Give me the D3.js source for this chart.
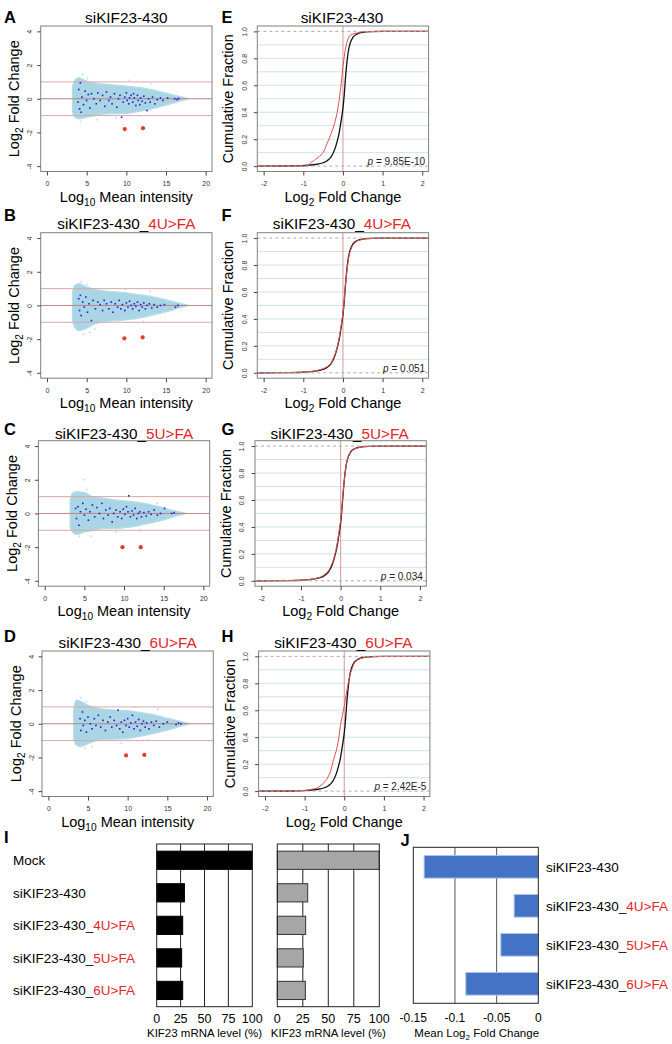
<!DOCTYPE html>
<html>
<head>
<meta charset="utf-8">
<script src="https://cdn.jsdelivr.net/npm/d3@7"></script>
<style>
  body { margin: 0; background: #fff; }
  text { font-family: "Liberation Sans", Arial, sans-serif; }
</style>
</head>
<body>
<svg width="672" height="1044"></svg>
<script>
// ---- data ----
const sampleBase = "siKIF23-430";
const suffixes = ["", "4U>FA", "5U>FA", "6U>FA"];
const maLetters = ["A", "B", "C", "D"];
const cdfLetters = ["E", "F", "G", "H"];
const pValues = ["9.85E-10", "0.051", "0.034", "2.42E-5"];

// light-blue cloud envelope (log10 intensity vs upper / lower log2 FC)
const cloudX = [3.2, 3.5, 4, 5, 6, 7.5, 9, 10, 11, 12.5, 14, 15, 16, 16.5, 17.2, 17.8];
const cloudUpper = [
  [0.7, 1.1, 1.25, 1.05, 0.95, 0.85, 0.8, 0.75, 0.7, 0.6, 0.45, 0.33, 0.22, 0.16, 0.08, 0],
  [0.8, 1.2, 1.3, 1.1, 0.95, 0.85, 0.8, 0.75, 0.68, 0.58, 0.45, 0.33, 0.22, 0.16, 0.08, 0],
  [0.8, 1.2, 1.3, 1.25, 1.0, 0.9, 0.8, 0.75, 0.7, 0.6, 0.45, 0.33, 0.2, 0.15, 0.07, 0],
  [0.9, 1.4, 1.35, 1.1, 0.95, 0.85, 0.8, 0.78, 0.7, 0.6, 0.45, 0.33, 0.22, 0.16, 0.08, 0]
];
const cloudLower = [
  [-0.8, -1.1, -1.2, -1.1, -1.0, -0.9, -0.88, -0.87, -0.8, -0.68, -0.5, -0.38, -0.25, -0.18, -0.09, 0],
  [-0.9, -1.3, -1.5, -1.35, -1.1, -0.95, -0.9, -0.85, -0.8, -0.66, -0.5, -0.38, -0.25, -0.17, -0.09, 0],
  [-0.8, -1.1, -1.25, -1.1, -1.0, -0.9, -0.9, -0.85, -0.8, -0.65, -0.5, -0.38, -0.24, -0.16, -0.08, 0],
  [-0.9, -1.25, -1.35, -1.2, -1.0, -0.92, -0.9, -0.88, -0.8, -0.66, -0.5, -0.38, -0.25, -0.17, -0.09, 0]
];
const cloudOutliers = [
  [[4.5, 1.45], [5.1, 1.2], [10.4, 1.1], [8.7, -1.15], [4.2, -1.35], [6.3, -1.25], [11.6, -1.0], [13.1, 0.9]],
  [[4.3, 1.4], [5.0, 1.25], [4.6, -1.7], [5.4, -1.6], [6.0, -1.4], [9.9, 0.95], [12.2, -0.95], [13.0, 0.85]],
  [[5.0, 2.0], [5.3, 1.4], [4.4, -1.35], [5.8, -1.35], [9.0, -1.1], [10.6, 1.0], [12.0, -0.95], [14.2, 0.6]],
  [[4.1, 1.55], [4.8, 1.3], [4.6, -1.45], [5.5, -1.35], [9.2, -1.15], [10.8, 1.0], [12.5, -0.95], [13.8, 0.85]]
];

// dark blue points (target genes)
const maDark = [
  [[3.9,-0.2],[4.0,0.55],[4.1,-0.6],[4.2,0.95],[4.3,-0.8],[4.4,0.1],[4.6,-0.35],[4.8,0.45],[5.0,-0.1],[5.2,0.25],[5.4,-0.55],[5.6,0.3],[5.9,0.0],[6.2,-0.3],[6.4,0.35],[6.7,-0.1],[7.0,0.2],[7.3,-0.45],[7.5,0.4],[7.8,-0.1],[8.0,0.1],[8.2,-0.3],[8.5,0.3],[8.8,-0.5],[9.0,0.0],[9.2,0.2],[9.4,-1.1],[9.6,-0.2],[9.8,0.1],[10.0,0.35],[10.1,-0.1],[10.3,-0.3],[10.4,0.05],[10.6,0.2],[10.8,-0.2],[10.9,0.3],[11.0,0.05],[11.2,-0.4],[11.4,0.2],[11.5,-0.1],[11.7,-0.35],[11.8,0.05],[12.0,-0.15],[12.2,0.15],[12.4,-0.25],[12.6,-0.7],[12.8,0.0],[13.0,-0.2],[13.3,0.1],[13.6,-0.3],[13.9,-0.05],[14.3,0.05],[14.6,-0.1],[15.2,0.05],[16.1,0.0],[16.4,-0.05],[16.6,0.02]],
  [[4.0,0.4],[4.1,-0.3],[4.2,0.6],[4.3,-0.6],[4.5,0.2],[4.7,-0.1],[4.9,0.5],[5.1,-0.4],[5.3,0.1],[5.6,-0.9],[5.8,0.3],[6.1,-0.2],[6.4,0.2],[6.7,0.05],[7.0,-0.3],[7.2,0.3],[7.5,0.1],[7.8,-0.2],[8.1,0.2],[8.3,-0.4],[8.6,0.1],[8.9,-0.1],[9.1,0.3],[9.3,-0.2],[9.5,0.05],[9.8,-0.3],[10.0,0.15],[10.2,-0.1],[10.4,0.25],[10.6,0.0],[10.8,-0.2],[11.0,0.1],[11.2,-0.05],[11.4,0.2],[11.6,-0.3],[11.8,0.05],[12.0,-0.1],[12.2,0.15],[12.4,-0.2],[12.6,0.0],[12.9,0.1],[13.2,-0.15],[13.5,0.05],[13.9,-0.1],[14.3,0.0],[14.8,0.05],[16.2,-0.1],[16.5,0.0]],
  [[3.9,0.3],[4.0,-0.3],[4.2,0.4],[4.3,-0.7],[4.5,0.1],[4.8,0.6],[5.0,-0.1],[5.2,0.25],[5.5,-0.4],[5.7,0.1],[6.0,0.5],[6.3,-0.2],[6.6,0.35],[6.9,0.0],[7.2,0.6],[7.4,-0.3],[7.7,0.2],[8.0,-0.1],[8.2,0.3],[8.5,-0.5],[8.7,0.0],[9.0,0.2],[9.2,-0.2],[9.5,0.1],[9.7,-0.3],[9.9,0.25],[10.1,-0.05],[10.3,0.4],[10.5,0.1],[10.6,1.05],[10.8,-0.2],[11.0,0.15],[11.2,-0.1],[11.4,0.3],[11.6,-0.3],[11.8,0.0],[12.0,0.1],[12.2,-0.2],[12.5,0.05],[12.8,-0.15],[13.1,0.1],[13.4,-0.05],[13.8,0.2],[14.2,-0.1],[14.6,0.0],[15.1,0.3],[16.0,0.0],[16.3,0.05]],
  [[4.0,0.3],[4.1,-0.4],[4.3,0.7],[4.4,-0.1],[4.6,0.2],[4.8,-0.5],[5.0,0.4],[5.3,0.0],[5.5,-0.3],[5.8,0.3],[6.0,-0.1],[6.3,0.5],[6.6,-0.2],[6.9,0.2],[7.2,-0.4],[7.5,0.1],[7.8,0.4],[8.0,-0.2],[8.3,0.2],[8.6,-0.1],[8.8,0.8],[9.0,-0.3],[9.2,0.1],[9.4,-0.5],[9.6,0.2],[9.8,-0.1],[10.0,0.3],[10.2,-0.2],[10.4,0.05],[10.6,0.5],[10.8,-0.3],[11.0,0.1],[11.2,-0.15],[11.4,0.25],[11.6,-0.4],[11.8,0.0],[12.0,0.15],[12.2,-0.2],[12.4,0.05],[12.7,-0.3],[13.0,0.1],[13.3,-0.1],[13.6,0.15],[14.0,-0.2],[14.5,0.0],[15.0,0.1],[16.1,-0.05],[16.4,0.05],[16.7,0.0]]
];
// the two red dots (siRNA itself)
const maRed = [
  [[9.8, -1.8], [12.1, -1.75]],
  [[9.75, -1.95], [12.05, -1.9]],
  [[9.8, -2.0], [12.1, -2.0]],
  [[9.8, -1.88], [12.1, -1.85]]
];

// cumulative curves: all genes (black) and targets (red)
const cdfAllX = [-2.16, -1.3, -1.0, -0.7, -0.5, -0.4, -0.3, -0.2, -0.15, -0.1, -0.05, 0, 0.03, 0.06, 0.1, 0.14, 0.18, 0.25, 0.35, 0.5, 0.7, 1.0, 2.16];
const cdfAllY = [0, 0.001, 0.004, 0.012, 0.025, 0.04, 0.068, 0.13, 0.18, 0.24, 0.33, 0.43, 0.52, 0.64, 0.77, 0.86, 0.91, 0.955, 0.98, 0.993, 0.998, 1, 1];
const cdfRedX = [
  [-2.16, -0.9, -0.85, -0.8, -0.75, -0.7, -0.6, -0.5, -0.45, -0.4, -0.35, -0.3, -0.25, -0.2, -0.15, -0.1, -0.06, -0.03, 0, 0.05, 0.1, 0.15, 0.2, 0.3, 0.5, 0.8, 2.16],
  [-2.16, -1.0, -0.7, -0.5, -0.4, -0.3, -0.2, -0.15, -0.1, -0.05, 0, 0.03, 0.06, 0.1, 0.14, 0.18, 0.25, 0.35, 0.5, 0.8, 2.16],
  [-2.16, -1.0, -0.7, -0.5, -0.4, -0.3, -0.2, -0.15, -0.1, -0.05, 0, 0.03, 0.06, 0.1, 0.14, 0.18, 0.25, 0.35, 0.5, 0.8, 2.16],
  [-2.16, -1.0, -0.7, -0.55, -0.44, -0.35, -0.27, -0.2, -0.15, -0.1, -0.05, 0, 0.05, 0.1, 0.15, 0.2, 0.25, 0.35, 0.5, 0.8, 2.16]
];
const cdfRedY = [
  [0, 0, 0.01, 0.03, 0.035, 0.05, 0.07, 0.1, 0.13, 0.17, 0.2, 0.24, 0.28, 0.33, 0.39, 0.48, 0.57, 0.65, 0.74, 0.85, 0.92, 0.96, 0.975, 0.985, 0.997, 1, 1],
  [0, 0.004, 0.013, 0.03, 0.045, 0.07, 0.135, 0.185, 0.25, 0.34, 0.44, 0.53, 0.64, 0.76, 0.85, 0.9, 0.95, 0.978, 0.992, 0.999, 1],
  [0, 0.003, 0.012, 0.028, 0.048, 0.075, 0.14, 0.19, 0.255, 0.345, 0.45, 0.54, 0.65, 0.77, 0.86, 0.91, 0.955, 0.98, 0.993, 0.999, 1],
  [0, 0.004, 0.02, 0.05, 0.087, 0.14, 0.235, 0.3, 0.37, 0.48, 0.56, 0.63, 0.72, 0.8, 0.87, 0.91, 0.95, 0.978, 0.992, 0.999, 1]
];

// panel I / J
const barCats = ["Mock", "siKIF23-430", "siKIF23-430_4U>FA", "siKIF23-430_5U>FA", "siKIF23-430_6U>FA"];
const mrnaLevel1 = [100, 29, 27.2, 26.1, 27.2];
const mrnaLevel2 = [100, 29.8, 27.8, 25.5, 27.5];
const mrnaTicks = [0, 25, 50, 75, 100];
const jCats = barCats.slice(1);
const meanLfc = [-0.137, -0.029, -0.045, -0.087];
const jTicks = [-0.15, -0.1, -0.05, 0];

// ---- layout ----
const RED = "#e3262a";
const rowTop = [26, 232.7, 440.7, 651];
const rowShift = [0, 0, -2.3, 1.3];
const titleY = [23.3, 228.8, 439, 647.5];
const letterY = [23.3, 220.7, 435, 641.7];
const PW = 171.3, PH = 145.5;
const plain = d => String(d);   // hyphen minus like R, not U+2212

const svg = d3.select("svg");

function redSuffix(sel, name) {
  const i = name.indexOf("_");
  if (i < 0) { sel.append("tspan").text(name); return; }
  sel.append("tspan").text(name.slice(0, i + 1));
  sel.append("tspan").attr("fill", RED).text(name.slice(i + 1));
}

// "Log" + subscript + rest
function subLabel(sel, sub, rest) {
  sel.append("tspan").text("Log");
  sel.append("tspan").attr("dy", 4).attr("font-size", "70%").text(sub);
  sel.append("tspan").attr("dy", -4).text(rest);
}

function letter(x, y, t) {
  svg.append("text").attr("x", x).attr("y", y)
    .attr("font-size", 16.5).attr("font-weight", "bold").text(t);
}

function styleAxis(g) {
  g.select(".domain").remove();
  g.selectAll("line").attr("stroke", "#444");
  g.selectAll("text").attr("fill", "#333").attr("font-size", 7);
}

function drawMA(i) {
  const L = 40.7 + rowShift[i], T = rowTop[i];
  const x = d3.scaleLinear().domain([-0.8, 20.8]).range([L, L + PW]);
  const y = d3.scaleLinear().domain([-4.32, 4.32]).range([T + PH, T]);
  const g = svg.append("g");

  const env = cloudX.map((v, k) => [v, cloudUpper[i][k], cloudLower[i][k]]);
  g.append("path").datum(env)
    .attr("d", d3.area().x(d => x(d[0])).y0(d => y(d[2])).y1(d => y(d[1])).curve(d3.curveMonotoneX))
    .attr("fill", "#a9d5e5").attr("stroke", "#b7dcea").attr("stroke-width", 1.2);

  g.selectAll(".out").data(cloudOutliers[i]).join("rect")
    .attr("x", d => x(d[0]) - 0.7).attr("y", d => y(d[1]) - 0.7)
    .attr("width", 1.4).attr("height", 1.4).attr("fill", "#a9d5e5");

  [1, -1, 0].forEach(v => {
    g.append("line").attr("x1", L).attr("x2", L + PW).attr("y1", y(v)).attr("y2", y(v))
      .attr("stroke", v === 0 ? "#b98585" : "#d8a9a9").attr("stroke-width", 1);
  });

  g.selectAll(".dk").data(maDark[i]).join("rect")
    .attr("x", d => x(d[0]) - 0.8).attr("y", d => y(d[1]) - 0.8)
    .attr("width", 1.6).attr("height", 1.6).attr("fill", "#1f1fd6");

  g.selectAll(".rd").data(maRed[i]).join("circle")
    .attr("cx", d => x(d[0])).attr("cy", d => y(d[1])).attr("r", 2.1).attr("fill", "#e8392b");

  g.append("rect").attr("x", L).attr("y", T).attr("width", PW).attr("height", PH)
    .attr("fill", "none").attr("stroke", "#808080");

  g.append("g").attr("transform", `translate(0,${T + PH})`)
    .call(d3.axisBottom(x).tickValues([0, 5, 10, 15, 20]).tickFormat(plain).tickSize(4).tickPadding(6))
    .call(styleAxis);
  const ya = g.append("g").attr("transform", `translate(${L},0)`)
    .call(d3.axisLeft(y).tickValues([-4, -2, 0, 2, 4]).tickFormat(plain).tickSize(3.5))
    .call(styleAxis);
  ya.selectAll("text").attr("x", null).attr("dy", null).attr("text-anchor", "middle")
    .attr("transform", "translate(-8.4,0) rotate(-90)");

  g.append("text").attr("x", L + PW / 2).attr("y", titleY[i]).attr("text-anchor", "middle")
    .attr("font-size", 15.3).call(s => redSuffix(s, suffixes[i] ? sampleBase + "_" + suffixes[i] : sampleBase));

  g.append("text").attr("text-anchor", "middle").attr("font-size", 14.5)
    .attr("transform", `translate(${L - 21.5},${T + PH / 2}) rotate(-90)`)
    .call(s => subLabel(s, "2", " Fold Change"));
  g.append("text").attr("x", L + PW / 2).attr("y", T + PH + 30).attr("text-anchor", "middle")
    .attr("font-size", 14.5).call(s => subLabel(s, "10", " Mean intensity"));

  letter(4, letterY[i], maLetters[i]);
}

function drawCDF(i) {
  const L = 257.3 + rowShift[i], T = rowTop[i];
  const x = d3.scaleLinear().domain([-2.16, 2.16]).range([L, L + PW]);
  const y = d3.scaleLinear().domain([-0.04, 1.04]).range([T + PH, T]);
  const g = svg.append("g");

  d3.range(1, 10).forEach(k => {
    g.append("line").attr("x1", L).attr("x2", L + PW).attr("y1", y(k / 10)).attr("y2", y(k / 10))
      .attr("stroke", "#cfe3ea").attr("stroke-width", 1);
  });
  g.append("line").attr("x1", x(0)).attr("x2", x(0)).attr("y1", T).attr("y2", T + PH)
    .attr("stroke", "#d39a9a").attr("stroke-width", 1);

  const line = d3.line().x(d => x(d[0])).y(d => y(d[1])).curve(d3.curveMonotoneX);
  g.append("path").datum(cdfAllX.map((v, k) => [v, cdfAllY[k]]))
    .attr("d", line).attr("fill", "none").attr("stroke", "#111").attr("stroke-width", 1.3);
  g.append("path").datum(cdfRedX[i].map((v, k) => [v, cdfRedY[i][k]]))
    .attr("d", d3.line().x(d => x(d[0])).y(d => y(d[1])))
    .attr("fill", "none").attr("stroke", "#e4514f").attr("stroke-width", 1);

  [0, 1].forEach(v => {
    g.append("line").attr("x1", L).attr("x2", L + PW).attr("y1", y(v)).attr("y2", y(v))
      .attr("stroke", "#aaa").attr("stroke-dasharray", "3,3");
  });

  g.append("rect").attr("x", L).attr("y", T).attr("width", PW).attr("height", PH)
    .attr("fill", "none").attr("stroke", "#808080");

  g.append("g").attr("transform", `translate(0,${T + PH})`)
    .call(d3.axisBottom(x).tickValues([-2, -1, 0, 1, 2]).tickFormat(plain).tickSize(4).tickPadding(6))
    .call(styleAxis);
  const ya = g.append("g").attr("transform", `translate(${L},0)`)
    .call(d3.axisLeft(y).tickValues([0, 0.2, 0.4, 0.6, 0.8, 1]).tickFormat(d3.format(".1f")).tickSize(3.5))
    .call(styleAxis);
  ya.selectAll("text").attr("x", null).attr("dy", null).attr("text-anchor", "middle")
    .attr("transform", "translate(-10.6,0) rotate(-90)");

  g.append("text").attr("x", L + PW / 2 - 1).attr("y", titleY[i]).attr("text-anchor", "middle")
    .attr("font-size", 15.3).call(s => redSuffix(s, suffixes[i] ? sampleBase + "_" + suffixes[i] : sampleBase));

  g.append("text").attr("text-anchor", "middle").attr("font-size", 14.5)
    .attr("transform", `translate(${L - 24},${T + PH / 2}) rotate(-90)`)
    .text("Cumulative Fraction");
  g.append("text").attr("x", L + PW / 2).attr("y", T + PH + 30).attr("text-anchor", "middle")
    .attr("font-size", 14.5).call(s => subLabel(s, "2", " Fold Change"));

  const pt = g.append("text").attr("x", L + PW - 3.5).attr("y", T + PH - 6.5)
    .attr("text-anchor", "end").attr("font-size", 10).attr("fill", "#222");
  pt.append("tspan").attr("font-style", "italic").text("p");
  pt.append("tspan").text(" = " + pValues[i]);

  letter(221.5, letterY[i], cdfLetters[i]);
}

d3.range(4).forEach(i => { drawMA(i); drawCDF(i); });

// ---- panel I ----
const yI = d3.scaleBand().domain(barCats).range([844, 1006.7]).paddingInner(0.44).paddingOuter(0.22);
function drawLevel(values, x0, x1, fill, stroke) {
  const x = d3.scaleLinear().domain([0, 100]).range([x0, x1]);
  const g = svg.append("g");
  [25, 50, 75].forEach(v => {
    g.append("line").attr("x1", x(v)).attr("x2", x(v)).attr("y1", 844).attr("y2", 1006.7)
      .attr("stroke", "#222");
  });
  g.selectAll(".b").data(barCats).join("rect")
    .attr("x", x(0)).attr("y", d => yI(d))
    .attr("width", (d, k) => x(values[k]) - x(0)).attr("height", yI.bandwidth())
    .attr("fill", fill).attr("stroke", stroke).attr("stroke-width", 1);
  g.append("rect").attr("x", x0).attr("y", 844).attr("width", x1 - x0).attr("height", 1006.7 - 844)
    .attr("fill", "none").attr("stroke", "#222");
  g.selectAll(".t").data(mrnaTicks).join("text")
    .attr("x", d => x(d)).attr("y", 1023).attr("text-anchor", "middle")
    .attr("font-size", 12.5).text(d => d);
  g.append("text").attr("x", (x0 + x1) / 2).attr("y", 1036.7).attr("text-anchor", "middle")
    .attr("font-size", 11.5).text("KIF23 mRNA level (%)");
}
drawLevel(mrnaLevel1, 156.7, 252.3, "#000", "#000");
drawLevel(mrnaLevel2, 277.3, 379.3, "#a6a6a6", "#333");
svg.selectAll(".catI").data(barCats).join("text")
  .attr("x", 13).attr("y", d => yI(d) + yI.bandwidth() / 2 + 4.8)
  .attr("font-size", 13.5).each(function (d) { redSuffix(d3.select(this), d); });
letter(4, 843.3, "I");

// ---- panel J ----
const xJ = d3.scaleLinear().domain([-0.15, 0]).range([413.3, 538.3]);
const yJ = d3.scaleBand().domain(jCats).range([847.3, 1003.3]).paddingInner(0.42).paddingOuter(0.21);
[-0.1, -0.05].forEach(v => {
  svg.append("line").attr("x1", xJ(v)).attr("x2", xJ(v)).attr("y1", 847.3).attr("y2", 1003.3)
    .attr("stroke", "#555");
});
svg.selectAll(".barJ").data(jCats).join("rect")
  .attr("x", (d, k) => xJ(meanLfc[k])).attr("y", d => yJ(d))
  .attr("width", (d, k) => xJ(0) - xJ(meanLfc[k])).attr("height", yJ.bandwidth())
  .attr("fill", "#4472c4").attr("stroke", "#a9c4eb").attr("stroke-width", 1);
svg.append("rect").attr("x", 413.3).attr("y", 847.3).attr("width", 125).attr("height", 156)
  .attr("fill", "none").attr("stroke", "#222");
svg.selectAll(".tJ").data(jTicks).join("text")
  .attr("x", d => xJ(d)).attr("y", 1021.7).attr("text-anchor", "middle")
  .attr("font-size", 12).text(d => String(d));
svg.append("text").attr("x", 476.7).attr("y", 1036.7).attr("text-anchor", "middle")
  .attr("font-size", 11.5).call(s => {
    s.append("tspan").text("Mean Log");
    s.append("tspan").attr("dy", 3).attr("font-size", "70%").text("2");
    s.append("tspan").attr("dy", -3).text(" Fold Change");
  });
svg.selectAll(".catJ").data(jCats).join("text")
  .attr("x", 546).attr("y", d => yJ(d) + yJ.bandwidth() / 2 + 4.8)
  .attr("font-size", 13.5).each(function (d) { redSuffix(d3.select(this), d); });
letter(400.5, 846, "J");
</script>
</body>
</html>
